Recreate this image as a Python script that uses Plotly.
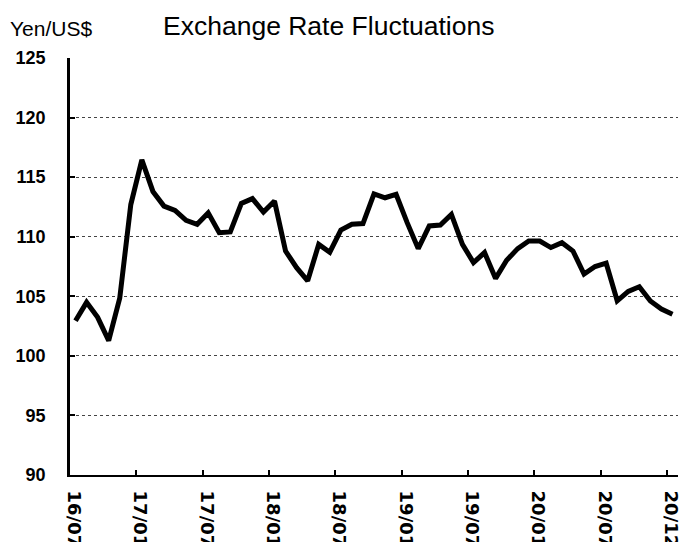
import plotly.graph_objects as go

# Monthly yen per US dollar (index 0 = first month shown)
rates = [102.95, 104.49, 103.23, 101.28, 104.85, 112.7, 116.45, 113.8, 112.57, 112.2,
         111.37, 111.04, 112.0, 110.34, 110.4, 112.8, 113.2, 112.07, 112.99, 108.8,
         107.4, 106.3, 109.36, 108.7, 110.56, 111.04, 111.1, 113.6, 113.27, 113.55,
         111.18, 109.0, 110.9, 110.98, 111.87, 109.36, 107.83, 108.67, 106.5, 108.03,
         109.0, 109.64, 109.64, 109.09, 109.5, 108.8, 106.86, 107.5, 107.78, 104.62,
         105.41, 105.8, 104.6, 103.93, 103.5]
months = list(range(len(rates)))

tick_labels = ["16/07", "17/01", "17/07", "18/01", "18/07",
               "19/01", "19/07", "20/01", "20/07", "20/12"]
tick_positions = [-0.5 + 6 * k for k in range(len(tick_labels))]

y_ticks = [90, 95, 100, 105, 110, 115, 120, 125]

fig = go.Figure()
fig.add_trace(go.Scatter(
    x=months, y=rates, mode="lines",
    line=dict(color="black", width=5),
    hoverinfo="skip", showlegend=False,
))

fig.update_layout(
    width=680, height=542,
    margin=dict(l=70, r=2, t=58, b=67, autoexpand=False),
    paper_bgcolor="white", plot_bgcolor="white",
    showlegend=False,
)

fig.update_xaxes(
    range=[-0.5, 54.5], automargin=False,
    tickmode="array", tickvals=tick_positions, ticktext=tick_labels,
    tickangle=90, ticklabeloverflow="allow",
    tickfont=dict(family="DejaVu Sans", size=18, color="black", weight="bold"),
    ticks="inside", ticklen=5, tickwidth=1.5, tickcolor="black",
    ticklabelshift=4, ticklabelstandoff=10,
    showline=True, linecolor="black", linewidth=2,
    showgrid=False, zeroline=False,
)

fig.update_yaxes(
    range=[90, 125], automargin=False,
    tickmode="array", tickvals=y_ticks,
    tickfont=dict(family="Liberation Sans", size=18, color="black", weight="bold"),
    ticks="inside", ticklen=5, tickwidth=1.5, tickcolor="black",
    ticklabelstandoff=18,
    showline=True, linecolor="black", linewidth=2.5,
    showgrid=True, gridcolor="#444444", gridwidth=1, griddash="dot",
    zeroline=False,
)

fig.add_annotation(
    text="Exchange Rate Fluctuations", xref="paper", yref="paper",
    x=(328 - 70) / 608, y=1 + (58 - 26) / 417,
    xanchor="center", yanchor="middle", showarrow=False,
    font=dict(family="Liberation Sans", size=26.5, color="black"),
)
fig.add_annotation(
    text="Yen/US$", xref="paper", yref="paper",
    x=(8 - 70) / 608, y=1 + (58 - 28) / 417,
    xanchor="left", yanchor="middle", showarrow=False,
    font=dict(family="Liberation Sans", size=21, color="black"),
)

fig.write_html("out.html")
